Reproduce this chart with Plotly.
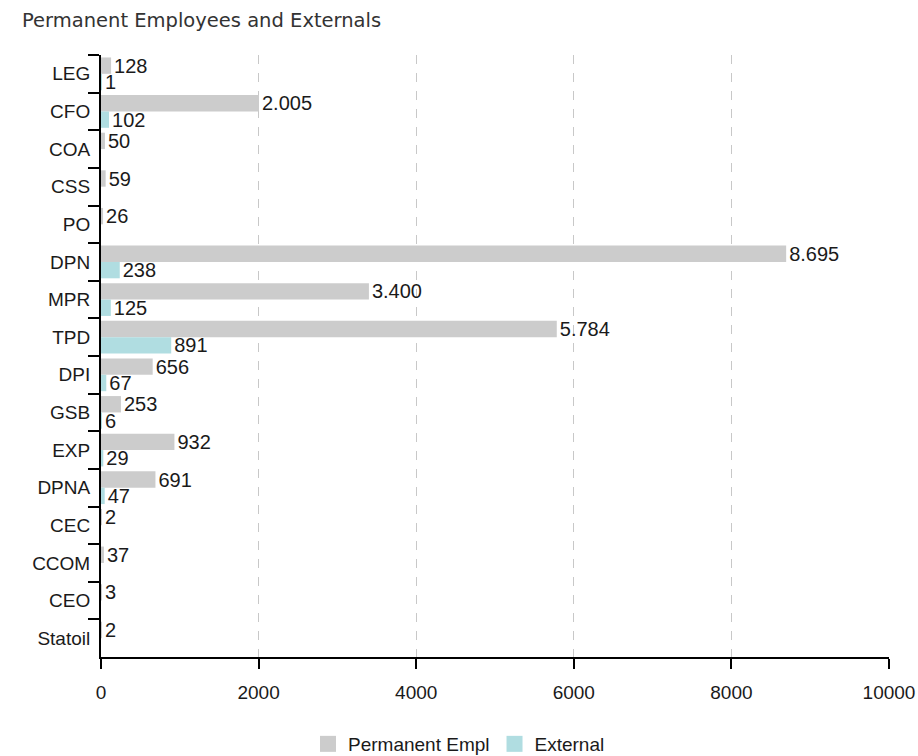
import plotly.graph_objects as go

categories = ["LEG", "CFO", "COA", "CSS", "PO", "DPN", "MPR", "TPD", "DPI",
              "GSB", "EXP", "DPNA", "CEC", "CCOM", "CEO", "Statoil"]
permanent = [128, 2005, 50, 59, 26, 8695, 3400, 5784, 656, 253, 932, 691, 2, 37, 3, 2]
external = [1, 102, None, None, None, 238, 125, 891, 67, 6, 29, 47, None, None, None, None]
series_names = ["Permanent Empl", "External"]
series_colors = ["#cccccc", "#b0dde1"]
x_ticks = [0, 2000, 4000, 6000, 8000, 10000]
grid_ticks = [2000, 4000, 6000, 8000]

LABEL_FONT = dict(family="Liberation Sans, Arial, sans-serif", size=19, color="#1a1a1a")
VALUE_FONT = dict(family="Liberation Sans, Arial, sans-serif", size=20, color="#1a1a1a")

fig = go.Figure()
for vals, name, color in zip([permanent, external], series_names, series_colors):
    fig.add_trace(go.Bar(
        y=categories, x=vals, orientation="h", name=name, showlegend=False,
        marker=dict(color=color, line=dict(width=0)),
        texttemplate="%{x:,d}", textposition="outside", cliponaxis=False,
        constraintext="none", textfont=VALUE_FONT,
    ))
# legend entries with larger square swatches
for name, color in zip(series_names, series_colors):
    fig.add_trace(go.Scatter(
        x=[None], y=[None], mode="markers", name=name,
        marker=dict(symbol="square", size=19, color=color, line=dict(width=0)),
    ))
# helper trace for the dashed grid axis
fig.add_trace(go.Scatter(x=[None], y=[None], xaxis="x2", showlegend=False, hoverinfo="skip"))

fig.update_layout(
    width=918, height=756,
    paper_bgcolor="white", plot_bgcolor="white",
    separators=",.",
    barmode="group", bargap=0.13, bargroupgap=0,
    margin=dict(l=101, r=29, t=55, b=99, autoexpand=False),
    font=LABEL_FONT,
    title=dict(text="Permanent Employees and Externals",
               font=dict(family="DejaVu Sans, Verdana, sans-serif", size=19.5, color="#333333"),
               x=22 / 918, xref="container", xanchor="left",
               y=1 - 20 / 756, yref="container", yanchor="middle"),
    xaxis=dict(range=[0, 10000], tickvals=x_ticks, tickformat="d",
               showgrid=False, zeroline=False,
               showline=True, linecolor="#000000", linewidth=2,
               ticks="outside", ticklen=10, tickwidth=2, tickcolor="#000000",
               ticklabelstandoff=7, tickfont=LABEL_FONT),
    xaxis2=dict(range=[0, 10000], overlaying="x", side="top", tickvals=grid_ticks,
                showticklabels=False, ticks="", showline=False, zeroline=False,
                showgrid=True, gridcolor="#c8c8c8", griddash="dash", gridwidth=1),
    yaxis=dict(type="category", autorange="reversed",
               showgrid=False, zeroline=False,
               showline=True, linecolor="#000000", linewidth=2,
               ticks="outside", tickson="boundaries", ticklen=11, tickwidth=2,
               tickcolor="#000000", tickfont=LABEL_FONT, ticklabelstandoff=5),
    legend=dict(orientation="h", x=0.5, xanchor="center", xref="container",
                y=12 / 756, yanchor="middle", yref="container",
                font=LABEL_FONT, traceorder="normal", itemwidth=30,
                itemsizing="trace"),
)

fig.write_html("out.html")
